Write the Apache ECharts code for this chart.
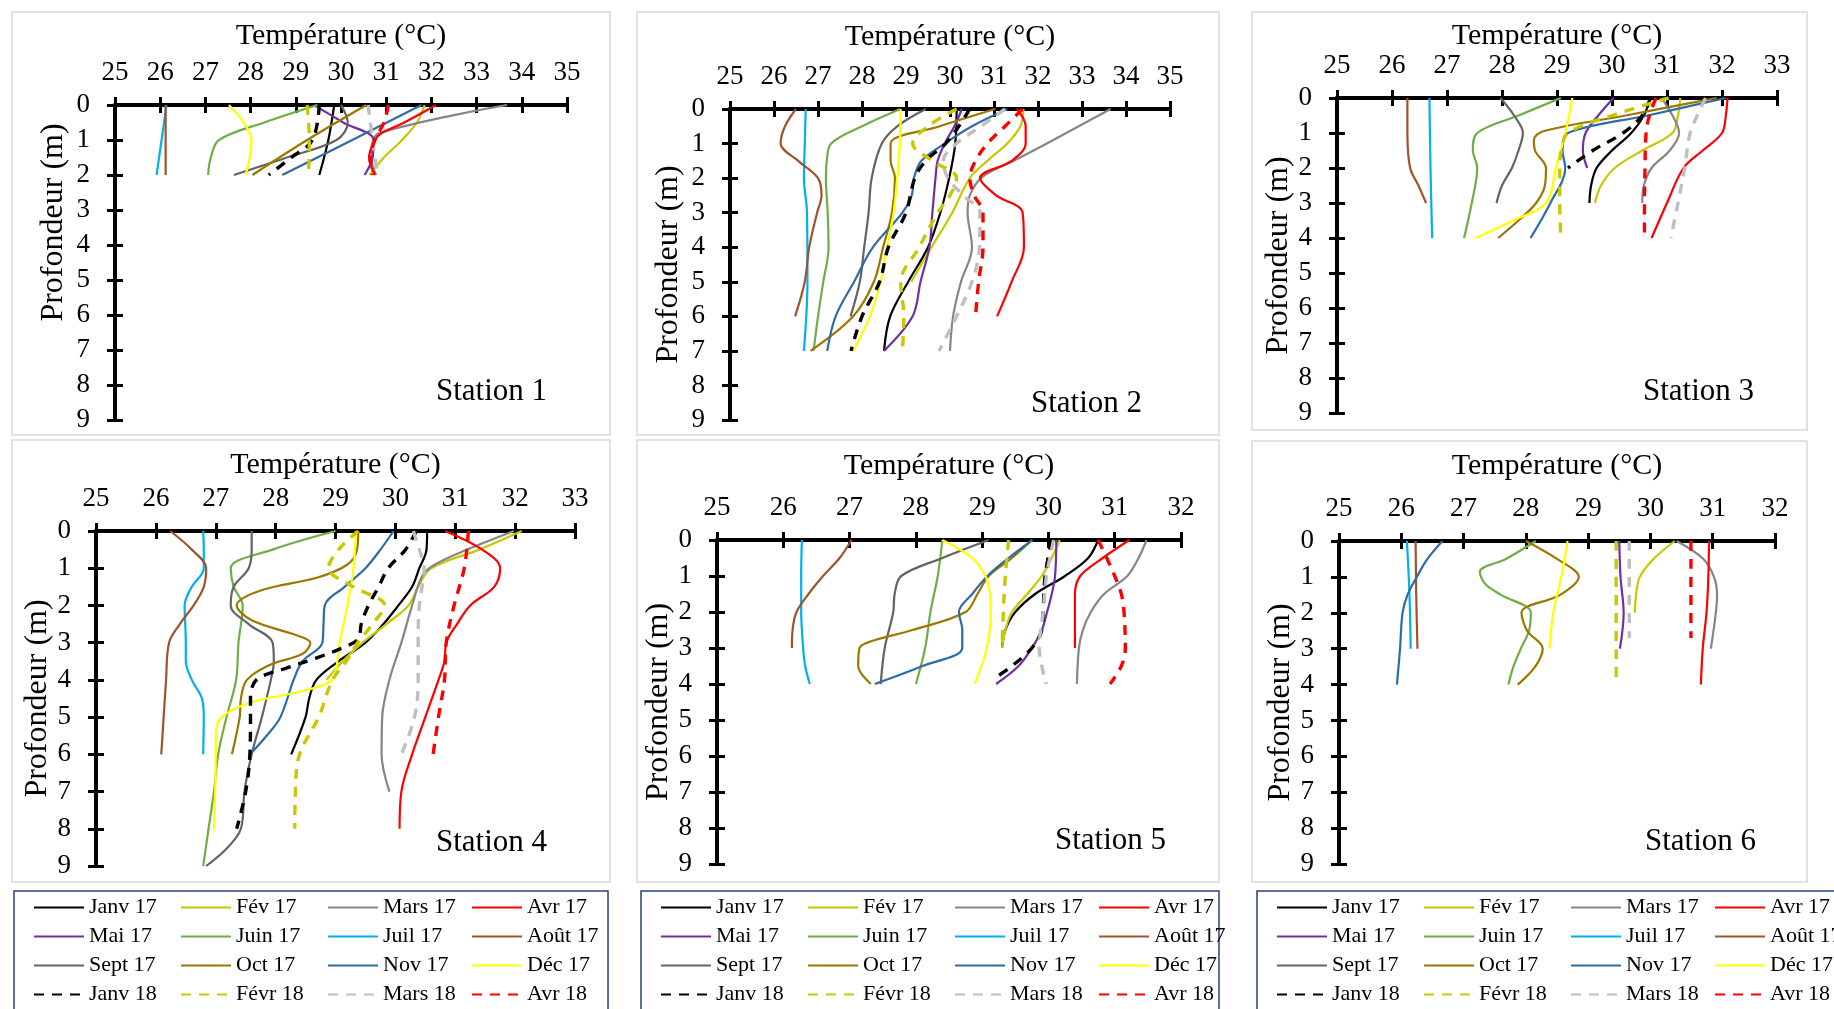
<!DOCTYPE html>
<html>
<head>
<meta charset="utf-8">
<script src="https://cdn.jsdelivr.net/npm/echarts@6/dist/echarts.min.js"></script>
<style>
html,body{margin:0;padding:0;background:#fff;}
#chart{width:1834px;height:1009px;}
</style>
</head>
<body>
<div id="chart"></div>
<script>
// ---------------- DATA (pairs are [depth m, temperature °C]) ----------------
const MONTHS = ['Janv 17','Fév 17','Mars 17','Avr 17','Mai 17','Juin 17','Juil 17','Août 17','Sept 17','Oct 17','Nov 17','Déc 17','Janv 18','Févr 18','Mars 18','Avr 18'];
const STATION_NAMES = ['Station 1','Station 2','Station 3','Station 4','Station 5','Station 6'];
const X_MAX = [35, 35, 33, 33, 32, 32];
const X_MIN = 25;
const DEPTH_MAX = 9;

// Station 1
const s1_janv17 = [[0,29.85],[1,29.72],[2,29.52]];
const s1_fev17  = [[0,31.85],[0.5,31.68],[1,31.35],[1.5,30.95],[2,30.63]];
const s1_mars17 = [[0,33.67],[0.8,30.85],[1.2,30.68],[1.6,30.68],[2,30.78]];
const s1_avr17  = [[0,32.1],[0.5,31.4],[0.8,30.9],[1,30.75],[1.5,30.62],[2,30.75]];
const s1_mai17  = [[0,29.4],[0.5,30.05],[1,30.72],[1.5,30.7],[2,30.52]];
const s1_juin17 = [[0,29.48],[0.5,28.3],[1,27.3],[1.5,27.12],[2,27.06]];
const s1_juil17 = [[0,26.14],[1,26.03],[2,25.92]];
const s1_aout17 = [[0,26.12],[1,26.12],[2,26.12]];
const s1_sept17 = [[0,30.0],[0.5,30.15],[1,29.9],[1.5,28.8],[2,27.63]];
const s1_oct17  = [[0,30.56],[1,29.25],[2,28.04]];
const s1_nov17  = [[0,31.78],[1,30.25],[2,28.7]];
const s1_dec17  = [[0,27.52],[0.5,27.85],[1,28.02],[1.5,27.98],[2,27.89]];
const s1_janv18 = [[0,29.52],[1,29.37],[1.5,28.9],[2,28.4]];
const s1_fevr18 = [[0,29.25],[1,29.3],[2,29.28]];
const s1_mars18 = [[0,30.6],[1,30.7],[2,30.8]];
const s1_avr18  = [[0,31.05],[0.5,30.95],[1,30.75],[1.5,30.65],[2,30.7]];

// Station 2
const s2_janv17 = [[0,30.15],[1,30.12],[2,29.98],[3,29.78],[4,29.5],[5,29.05],[6,28.64],[7,28.5]];
const s2_fev17  = [[0,31.67],[0.5,31.6],[1,31.3],[1.5,30.85],[2,30.45],[3,30.05],[4,29.58],[5,29.12]];
const s2_mars17 = [[0,33.65],[1,32.2],[1.5,31.45],[1.95,30.75],[2.5,30.45],[3,30.4],[4,30.5],[5,30.25],[6,30.07],[7,30.0]];
const s2_avr17  = [[0,31.52],[0.5,31.72],[1,31.72],[1.5,31.4],[2,30.68],[2.5,31.05],[3,31.65],[4,31.68],[5,31.4],[6,31.07]];
const s2_mai17  = [[0,30.27],[0.5,30.1],[1,29.88],[1.5,29.72],[2,29.67],[3,29.6],[4,29.53],[5,29.33],[6,29.15],[7,28.5]];
const s2_juin17 = [[0,28.87],[0.5,28.0],[1,27.3],[1.5,27.2],[2,27.18],[3,27.22],[4,27.24],[5,27.12],[6,27.0],[7,26.9]];
const s2_juil17 = [[0,26.72],[1,26.7],[2,26.68],[3,26.75],[5,26.76],[7,26.68]];
const s2_aout17 = [[0,26.5],[0.5,26.25],[1,26.15],[1.5,26.55],[2,27.0],[2.5,27.08],[3,26.98],[4,26.8],[5,26.7],[6,26.48]];
const s2_sept17 = [[0,29.45],[0.5,28.8],[1,28.45],[2,28.22],[3,28.15],[4,28.05],[5,27.95],[6,27.74]];
const s2_oct17  = [[0,31.03],[0.5,29.77],[1,28.65],[1.5,28.65],[2,28.75],[3,28.68],[4,28.48],[5,28.27],[6,27.8],[7,26.83]];
const s2_nov17  = [[0,31.3],[0.5,30.5],[1,29.88],[1.5,29.35],[2,29.18],[2.5,29.13],[3,28.92],[4,28.25],[5,27.82],[6,27.4],[7,27.21]];
const s2_dec17  = [[0,28.88],[1,28.86],[2,28.8],[3,28.72],[4,28.57],[5,28.42],[6,28.18],[7,27.8]];
const s2_janv18 = [[0,30.45],[0.5,30.2],[1,29.9],[1.5,29.45],[2,29.2],[3,29.0],[4,28.6],[5,28.4],[6,28.0],[7,27.75]];
const s2_fevr18 = [[0,30.15],[0.5,29.5],[1,29.15],[1.5,29.6],[2,30.15],[2.5,30.0],[3,29.72],[4,29.3],[5,28.88],[6,28.95],[7,28.92]];
const s2_mars18 = [[0,31.25],[0.5,30.7],[1,30.15],[1.5,29.85],[2,29.95],[2.5,30.3],[3,30.68],[4,30.67],[5,30.5],[6,30.15],[7,29.75]];
const s2_avr18  = [[0,31.65],[0.5,31.25],[1,30.85],[1.5,30.58],[2,30.45],[2.5,30.55],[3,30.75],[4,30.75],[5,30.65],[6,30.58]];

// Station 3
const s3_janv17 = [[0,30.69],[0.5,30.58],[1,30.35],[1.5,30.0],[2,29.72],[2.5,29.62],[3,29.59]];
const s3_fev17  = [[0,31.24],[0.5,31.2],[1,31.1],[1.5,30.55],[2,30.05],[2.5,29.8],[3,29.69]];
const s3_mars17 = [[0,30.9],[0.5,31.1],[1,31.22],[1.5,31.05],[2,30.72],[2.5,30.58],[3,30.55]];
const s3_avr17  = [[0,32.1],[0.5,32.07],[1,32.0],[1.5,31.65],[2,31.3],[3,31.0],[4,30.72]];
const s3_mai17  = [[0,30.03],[0.5,29.75],[1,29.52],[1.5,29.47],[2,29.55]];
const s3_juin17 = [[0,29.07],[0.5,28.3],[1,27.55],[1.5,27.47],[2,27.55],[3,27.45],[4,27.31]];
const s3_juil17 = [[0,26.68],[2,26.7],[4,26.73]];
const s3_aout17 = [[0,26.28],[1,26.28],[2,26.33],[2.5,26.48],[3,26.62]];
const s3_sept17 = [[0,27.97],[0.5,28.22],[1,28.38],[1.5,28.3],[2,28.18],[2.5,28.0],[3,27.9]];
const s3_oct17  = [[0,31.9],[0.5,30.25],[0.95,28.75],[1.2,28.58],[1.5,28.6],[2,28.8],[2.5,28.78],[3,28.62],[3.5,28.3],[4,27.93]];
const s3_nov17  = [[0,32.07],[0.5,30.65],[1,29.2],[1.5,29.1],[2,29.15],[3,28.88],[4,28.52]];
const s3_dec17  = [[0,29.28],[1,29.15],[2,28.98],[3,28.8],[3.5,28.2],[4,27.52]];
const s3_janv18 = [[0,30.7],[0.5,30.55],[1,30.2],[1.5,29.65],[2,29.2]];
const s3_fevr18 = [[0,31.03],[0.5,30.0],[1,29.2],[1.5,29.08],[2,29.05],[3,29.05],[4,29.07]];
const s3_mars18 = [[0,31.7],[0.5,31.55],[1,31.42],[2,31.32],[3,31.2],[4,31.07]];
const s3_avr18  = [[0,30.8],[0.5,30.68],[1,30.62],[2,30.6],[3,30.59],[4,30.59]];

// Station 4 (no Mai 17 profile)
const s4_janv17 = [[0,30.53],[0.5,30.52],[1,30.4],[1.5,30.28],[2,30.05],[2.5,29.8],[3,29.5],[3.5,29.05],[4,28.68],[4.5,28.56],[5,28.5],[6,28.26]];
const s4_fev17  = [[0,32.11],[0.5,31.4],[1,30.6],[1.5,30.38],[2,30.22],[2.5,29.85],[3,29.45],[3.5,29.12],[4,28.85]];
const s4_mars17 = [[0,31.98],[0.5,31.2],[0.9,30.66],[1.2,30.45],[2,30.28],[3,30.1],[4,29.9],[5,29.78],[6,29.77],[7,29.9]];
const s4_avr17  = [[0,30.83],[0.5,31.45],[1,31.75],[1.5,31.65],[2,31.25],[2.5,31.03],[3,30.85],[3.5,30.82],[4,30.72],[5,30.5],[6,30.28],[7,30.1],[8,30.07]];
const s4_mai17  = null;
const s4_juin17 = [[0,29.0],[0.5,27.95],[1,27.25],[1.5,27.3],[2,27.45],[3,27.38],[4,27.34],[5,27.18],[6,27.04],[7,26.97],[8,26.88],[9,26.79]];
const s4_juil17 = [[0,26.79],[0.5,26.8],[1,26.8],[1.5,26.6],[2,26.48],[3,26.5],[3.5,26.5],[4,26.6],[4.5,26.77],[5,26.8],[6,26.79]];
const s4_aout17 = [[0,26.24],[0.5,26.6],[1,26.84],[1.5,26.8],[2,26.63],[2.5,26.4],[3,26.22],[4,26.17],[5,26.13],[6,26.09]];
const s4_sept17 = [[0,27.6],[0.5,27.6],[1,27.55],[1.5,27.3],[2,27.25],[2.5,27.55],[3,27.95],[3.5,27.97],[4,27.92],[5,27.77],[6,27.6],[7,27.48],[8,27.42],[8.5,27.2],[9,26.84]];
const s4_oct17  = [[0,29.38],[0.5,29.36],[0.9,29.2],[1.25,28.7],[1.6,27.75],[2,27.35],[2.4,27.6],[2.8,28.35],[3,28.58],[3.3,28.45],[3.6,27.9],[4,27.52],[4.5,27.42],[5,27.4],[6,27.27]];
const s4_nov17  = [[0,29.97],[0.5,29.75],[1,29.5],[1.5,29.15],[2,28.82],[2.5,28.8],[3,28.78],[3.5,28.45],[4,28.3],[5,28.08],[5.5,27.85],[6,27.57]];
const s4_dec17  = [[0,29.34],[1,29.3],[2,29.2],[3,29.07],[3.5,29.03],[4,28.95],[4.3,28.45],[4.6,27.6],[5,27.1],[5.5,27.0],[6,27.0],[7,26.99],[8,26.97]];
const s4_janv18 = [[0,30.35],[0.5,30.17],[1,29.88],[1.5,29.72],[2,29.55],[2.5,29.43],[2.9,29.38],[3.15,29.1],[3.4,28.7],[3.7,28.15],[4,27.68],[4.5,27.58],[5,27.58],[6,27.57],[7,27.5],[8,27.35]];
const s4_fevr18 = [[0,29.38],[0.5,29.05],[1,28.88],[1.5,29.3],[2,29.82],[2.5,29.62],[3,29.37],[3.5,29.18],[4,28.95],[5,28.72],[6,28.4],[7,28.33],[8,28.32]];
const s4_mars18 = [[0,30.3],[0.5,30.4],[1,30.48],[2,30.4],[3,30.38],[4,30.38],[5,30.32],[6,30.1]];
const s4_avr18  = [[0,31.22],[1,31.15],[2,30.98],[3,30.85],[4,30.82],[5,30.72],[6,30.63]];

// Station 5
const s5_janv17 = [[0,30.75],[0.5,30.6],[1,30.25],[1.5,29.8],[2,29.5],[2.5,29.35],[3,29.3]];
const s5_fev17  = [[0,30.17],[0.5,30.05],[1,29.9],[1.5,29.68],[2,29.45],[2.5,29.35],[3,29.3]];
const s5_mars17 = [[0,31.48],[0.5,31.36],[1,31.19],[1.5,30.84],[2,30.64],[2.5,30.52],[3,30.46],[4,30.43]];
const s5_avr17  = [[0,31.22],[0.5,30.82],[1,30.48],[1.5,30.4],[2,30.4],[3,30.4]];
const s5_mai17  = [[0,30.12],[1,30.1],[1.5,30.05],[2,29.98],[2.5,29.9],[3,29.75],[3.5,29.55],[4,29.21]];
const s5_juin17 = [[0,28.4],[1,28.33],[2,28.22],[3,28.14],[4,28.0]];
const s5_juil17 = [[0,26.28],[1,26.27],[2,26.27],[3,26.3],[3.5,26.33],[4,26.4]];
const s5_aout17 = [[0,27.03],[0.5,26.85],[1,26.6],[1.5,26.38],[2,26.2],[2.5,26.14],[3,26.13]];
const s5_sept17 = [[0,29.1],[0.5,28.4],[1,27.78],[1.5,27.68],[2,27.66],[3,27.53],[4,27.47]];
const s5_oct17  = [[0,29.75],[0.5,29.45],[1,29.1],[1.5,28.93],[2,28.75],[2.5,27.95],[2.8,27.35],[3,27.15],[3.5,27.13],[4,27.32]];
const s5_nov17  = [[0,29.76],[0.5,29.4],[1,29.08],[1.5,28.85],[2,28.65],[2.5,28.7],[3,28.7],[3.5,28.1],[4,27.38]];
const s5_dec17  = [[0,28.4],[0.5,28.85],[1,29.05],[1.5,29.12],[2,29.13],[3,29.07],[4,28.89]];
const s5_janv18 = [[0,30.05],[1,29.95],[2,29.92],[2.5,29.9],[3,29.75],[3.5,29.45],[3.8,29.22]];
const s5_fevr18 = [[0,29.4],[1,29.35],[2,29.32],[3,29.3]];
const s5_mars18 = [[0,30.08],[1,29.97],[2,29.92],[3,29.86],[3.5,29.9],[4,29.97]];
const s5_avr18  = [[0,30.75],[0.5,30.88],[1,31.0],[1.5,31.1],[2,31.14],[3,31.16],[3.5,31.1],[4,30.93]];

// Station 6 (no Janv 17, Sept 17, Janv 18 profiles)
const s6_janv17 = null;
const s6_fev17  = [[0,30.39],[0.5,30.05],[1,29.83],[1.5,29.77],[2,29.75]];
const s6_mars17 = [[0,30.42],[0.5,30.85],[1,31.02],[1.5,31.07],[2,31.05],[3,30.97]];
const s6_avr17  = [[0,30.94],[1,30.93],[2,30.9],[3,30.84],[4,30.81]];
const s6_mai17  = [[0,29.5],[1,29.52],[2,29.57],[3,29.51]];
const s6_juin17 = [[0,28.16],[0.5,27.68],[0.86,27.26],[1.2,27.35],[1.5,27.6],[2,28.08],[2.5,28.05],[3,27.92],[3.5,27.8],[4,27.72]];
const s6_juil17 = [[0,26.09],[1,26.12],[2,26.14],[3,26.15]];
const s6_aout17 = [[0,26.23],[1.5,26.24],[3,26.26]];
const s6_sept17 = null;
const s6_oct17  = [[0,28.0],[0.5,28.5],[1,28.85],[1.5,28.55],[2,27.93],[2.5,28.02],[3,28.27],[3.5,28.15],[4,27.87]];
const s6_nov17  = [[0,26.66],[0.5,26.42],[1,26.25],[1.5,26.1],[2,26.02],[3,25.98],[4,25.93]];
const s6_dec17  = [[0,28.67],[1,28.57],[2,28.44],[3,28.38]];
const s6_janv18 = null;
const s6_fevr18 = [[0,29.45],[2,29.45],[4,29.45]];
const s6_mars18 = [[0,29.66],[1.5,29.66],[2.7,29.66]];
const s6_avr18  = [[0,30.65],[1.5,30.65],[2.7,30.65]];

const STATIONS = [
  [s1_janv17,s1_fev17,s1_mars17,s1_avr17,s1_mai17,s1_juin17,s1_juil17,s1_aout17,s1_sept17,s1_oct17,s1_nov17,s1_dec17,s1_janv18,s1_fevr18,s1_mars18,s1_avr18],
  [s2_janv17,s2_fev17,s2_mars17,s2_avr17,s2_mai17,s2_juin17,s2_juil17,s2_aout17,s2_sept17,s2_oct17,s2_nov17,s2_dec17,s2_janv18,s2_fevr18,s2_mars18,s2_avr18],
  [s3_janv17,s3_fev17,s3_mars17,s3_avr17,s3_mai17,s3_juin17,s3_juil17,s3_aout17,s3_sept17,s3_oct17,s3_nov17,s3_dec17,s3_janv18,s3_fevr18,s3_mars18,s3_avr18],
  [s4_janv17,s4_fev17,s4_mars17,s4_avr17,s4_mai17,s4_juin17,s4_juil17,s4_aout17,s4_sept17,s4_oct17,s4_nov17,s4_dec17,s4_janv18,s4_fevr18,s4_mars18,s4_avr18],
  [s5_janv17,s5_fev17,s5_mars17,s5_avr17,s5_mai17,s5_juin17,s5_juil17,s5_aout17,s5_sept17,s5_oct17,s5_nov17,s5_dec17,s5_janv18,s5_fevr18,s5_mars18,s5_avr18],
  [s6_janv17,s6_fev17,s6_mars17,s6_avr17,s6_mai17,s6_juin17,s6_juil17,s6_aout17,s6_sept17,s6_oct17,s6_nov17,s6_dec17,s6_janv18,s6_fevr18,s6_mars18,s6_avr18]
];

// ---------------- STYLE ----------------
const COLORS = ['#000000','#C8C800','#868686','#FF0000','#7030A0','#70AD47','#00B0F0','#A0522D',
                '#646464','#9C7700','#2E6CA4','#FFFF00','#000000','#C8C800','#BFBFBF','#FF0000'];
const DASHED = [false,false,false,false,false,false,false,false,false,false,false,false,true,true,true,true];
const FONT = '"Liberation Serif", "Times New Roman", serif';

// layout (pixel positions of each panel)
const GRIDS = [
  {left:115,  top:105, width:452, height:315},
  {left:730,  top:109, width:440, height:311},
  {left:1337, top:98,  width:440, height:315},
  {left:96,   top:531, width:479, height:335},
  {left:717,  top:540, width:464, height:324},
  {left:1339, top:541, width:436, height:323}
];
const X_NAME_GAP = [54, 57, 46, 51, 59, 60];
const Y_NAME_GAP = [45, 45, 42, 40, 37, 42];
const Y_NAME_SHIFT = [80, 0, 0, 0, 0, 0];
const PANELS = [
  {x:12, y:12, w:598, h:423}, {x:637, y:12, w:582, h:423}, {x:1252, y:12, w:555, h:418},
  {x:12, y:440, w:598, h:442}, {x:637, y:440, w:582, h:442}, {x:1252, y:441, w:555, h:441}
];
const STATION_LABEL_POS = [[436,392],[1031,404],[1643,392],[436,843],[1055,841],[1645,842]];
const LEGEND_BOXES = [{x:14, w:594}, {x:641, w:578}, {x:1257, w:610}];
const LEGEND_COLS = [19, 166, 313, 457];

const chart = echarts.init(document.getElementById('chart'), null, {renderer:'canvas'});

const grid = [], xAxis = [], yAxis = [], series = [], graphic = [], legend = [];
const tickStyle = {color:'#000', width:3};

GRIDS.forEach((g, i) => {
  grid.push(Object.assign({containLabel:false}, g));
  const xBase = {gridIndex:i, type:'value', position:'top', min:X_MIN, max:X_MAX[i], interval:1, splitLine:{show:false}};
  xAxis.push(Object.assign({}, xBase, {
    name:'Température (°C)', nameLocation:'middle', nameGap:X_NAME_GAP[i],
    nameTextStyle:{fontFamily:FONT, fontSize:30, color:'#000'},
    axisLine:{show:true, onZero:false, lineStyle:{color:'#000', width:4}},
    axisTick:{show:true, inside:false, length:8, lineStyle:tickStyle},
    axisLabel:{show:true, fontFamily:FONT, fontSize:27, color:'#000', margin:19}
  }));
  xAxis.push(Object.assign({}, xBase, {
    axisLine:{show:false}, axisTick:{show:true, inside:true, length:8, lineStyle:tickStyle},
    axisLabel:{show:false}
  }));
  const yBase = {gridIndex:i, type:'value', position:'left', inverse:true, min:0, max:DEPTH_MAX, interval:1, splitLine:{show:false}};
  const shift = Y_NAME_SHIFT[i];
  yAxis.push(Object.assign({}, yBase, {
    name: shift ? '{gap|}Profondeur (m)' : 'Profondeur (m)',
    nameLocation:'middle', nameRotate:90, nameGap:Y_NAME_GAP[i],
    nameTextStyle:{fontFamily:FONT, fontSize:32, color:'#000',
      rich:{gap:{width:shift, fontSize:32, fontFamily:FONT}}},
    axisLine:{show:true, onZero:false, lineStyle:{color:'#000', width:4}},
    axisTick:{show:true, inside:false, length:8, lineStyle:tickStyle},
    axisLabel:{show:true, fontFamily:FONT, fontSize:27, color:'#000', margin:25}
  }));
  yAxis.push(Object.assign({}, yBase, {
    axisLine:{show:false}, axisTick:{show:true, inside:true, length:8, lineStyle:tickStyle},
    axisLabel:{show:false}
  }));

  STATIONS[i].forEach((prof, j) => {
    if (!prof) return;
    series.push({
      type:'line', name:MONTHS[j], xAxisIndex:2*i, yAxisIndex:2*i,
      data: prof.map(p => [p[1], p[0]]),
      smooth:0.35, symbol:'none', showSymbol:false, silent:true, animation:false,
      itemStyle:{color:COLORS[j]},
      lineStyle:{color:COLORS[j], width:DASHED[j] ? 3.4 : 2.2, type:DASHED[j] ? [10,8] : 'solid'},
      z: 2
    });
  });

  const p = PANELS[i];
  graphic.push({type:'rect', shape:{x:p.x, y:p.y, width:p.w, height:p.h}, style:{fill:null, stroke:'#D9D9D9', lineWidth:1.5}, silent:true, z:-1});
  graphic.push({type:'text', x:STATION_LABEL_POS[i][0], y:STATION_LABEL_POS[i][1],
    style:{text:STATION_NAMES[i], font:'31px ' + FONT, fill:'#000', align:'left', verticalAlign:'middle'}, silent:true});
});

LEGEND_BOXES.forEach((b) => {
  graphic.push({type:'rect', shape:{x:b.x, y:891, width:b.w, height:140}, style:{fill:null, stroke:'#2B3F7A', lineWidth:1.5}, silent:true});
  LEGEND_COLS.forEach((cx, c) => {
    legend.push({
      orient:'vertical', left:b.x + cx, top:893, padding:0, itemGap:0,
      itemWidth:50, itemHeight:14, selectedMode:false,
      itemStyle:{color:'transparent', borderColor:'transparent', borderWidth:0, opacity:0},
      data:[MONTHS[c], MONTHS[c+4], MONTHS[c+8], MONTHS[c+12]],
      textStyle:{fontFamily:FONT, fontSize:22, lineHeight:29, color:'#000'}
    });
  });
});

chart.setOption({
  backgroundColor:'#fff',
  animation:false,
  grid, xAxis, yAxis, series, legend, graphic
});
</script>
</body>
</html>
